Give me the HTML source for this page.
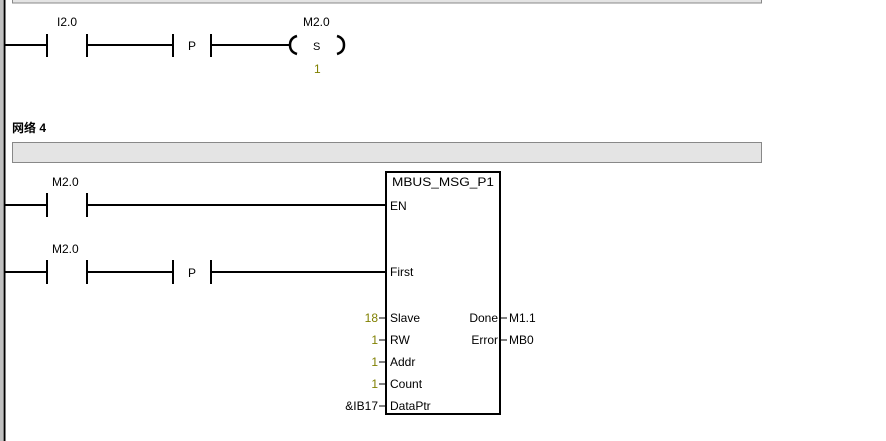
<!DOCTYPE html>
<html><head><meta charset="utf-8"><style>
html,body{margin:0;padding:0;background:#fff;}
svg{display:block;}
text{font-family:"Liberation Sans","Noto Sans CJK SC",sans-serif;font-size:12px;fill:#000;}
.o{fill:#808000;}
</style></head><body>
<svg width="886" height="441" viewBox="0 0 886 441" xmlns="http://www.w3.org/2000/svg">
<rect x="0" y="0" width="3" height="441" fill="#c0c0c0"/>
<line x1="4.5" y1="0" x2="4.5" y2="441" stroke="#000" stroke-width="2"/>
<rect x="12.5" y="-2" width="749" height="5" fill="#e4e4e4" stroke="#888"/>
<g stroke="#000" stroke-width="2" fill="none">
<line x1="5" y1="45" x2="47" y2="45"/>
<line x1="47" y1="34" x2="47" y2="57"/>
<line x1="87" y1="34" x2="87" y2="57"/>
<line x1="87" y1="45" x2="173" y2="45"/>
<line x1="173" y1="34" x2="173" y2="57"/>
<line x1="211" y1="34" x2="211" y2="57"/>
<line x1="211" y1="45" x2="290" y2="45"/>
<path d="M297 36 Q290 38 290 45 Q290 52 297 54" stroke-width="2.5"/>
<path d="M337 36 Q344 38 344 45 Q344 52 337 54" stroke-width="2.5"/>
</g>
<text x="57" y="26">I2.0</text>
<text x="188" y="50">P</text>
<text x="303" y="26">M2.0</text>
<text x="313" y="50" style="font-size:11px">S</text>
<text x="314" y="73" class="o">1</text>
<text x="12" y="132" style="font-weight:bold;font-size:12px">网络 4</text>
<rect x="12.5" y="142.5" width="749" height="20" fill="#e4e4e4" stroke="#888"/>
<g stroke="#000" stroke-width="2" fill="none">
<line x1="5" y1="205" x2="47" y2="205"/>
<line x1="47" y1="193" x2="47" y2="217"/>
<line x1="87" y1="193" x2="87" y2="217"/>
<line x1="87" y1="205" x2="385" y2="205"/>
<line x1="5" y1="272" x2="47" y2="272"/>
<line x1="47" y1="260" x2="47" y2="284"/>
<line x1="87" y1="260" x2="87" y2="284"/>
<line x1="87" y1="272" x2="173" y2="272"/>
<line x1="173" y1="260" x2="173" y2="284"/>
<line x1="211" y1="260" x2="211" y2="284"/>
<line x1="211" y1="272" x2="385" y2="272"/>
<rect x="386" y="172" width="114" height="242"/>
</g>
<g stroke="#000" stroke-width="1">
<line x1="379" y1="318" x2="386" y2="318"/>
<line x1="379" y1="340" x2="386" y2="340"/>
<line x1="379" y1="362" x2="386" y2="362"/>
<line x1="379" y1="384" x2="386" y2="384"/>
<line x1="379" y1="406" x2="386" y2="406"/>
<line x1="500" y1="318" x2="507" y2="318"/>
<line x1="500" y1="340" x2="507" y2="340"/>
</g>
<text x="52" y="186">M2.0</text>
<text x="52" y="253">M2.0</text>
<text x="188" y="277">P</text>
<text x="392" y="186" textLength="102" lengthAdjust="spacingAndGlyphs">MBUS_MSG_P1</text>
<text x="390" y="210">EN</text>
<text x="390" y="276">First</text>
<text x="390" y="322">Slave</text>
<text x="390" y="344">RW</text>
<text x="390" y="366">Addr</text>
<text x="390" y="388">Count</text>
<text x="390" y="410">DataPtr</text>
<text x="498" y="322" text-anchor="end">Done</text>
<text x="498" y="344" text-anchor="end">Error</text>
<text x="509" y="322">M1.1</text>
<text x="509" y="344">MB0</text>
<text x="378" y="322" class="o" text-anchor="end">18</text>
<text x="378" y="344" class="o" text-anchor="end">1</text>
<text x="378" y="366" class="o" text-anchor="end">1</text>
<text x="378" y="388" class="o" text-anchor="end">1</text>
<text x="378" y="410" text-anchor="end">&amp;IB17</text>
</svg>
</body></html>
